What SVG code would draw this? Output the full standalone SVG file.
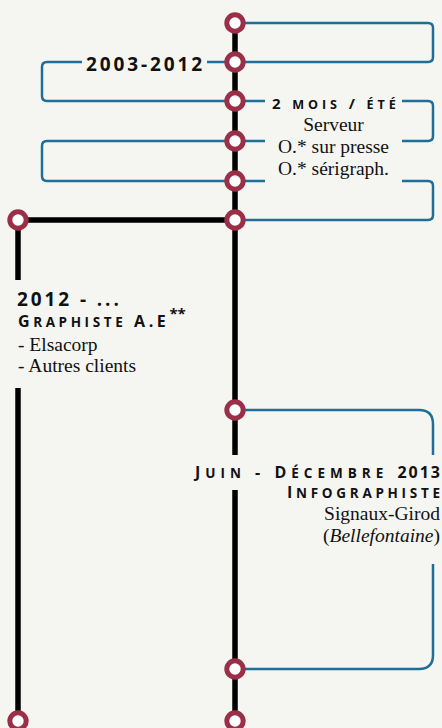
<svg xmlns="http://www.w3.org/2000/svg" width="442" height="728" viewBox="0 0 442 728">
<style>
.bg{fill:#f5f6f1}
.rail{fill:none;stroke:#000;stroke-width:5.5}
.link{fill:none;stroke:#1f6e98;stroke-width:2.5}
.stop{fill:#fff;stroke:#9c2f48;stroke-width:5}
.hd{font-family:"Open Sans","DejaVu Sans",sans-serif;font-weight:700;fill:#111}
.s{font-size:13.5px}
.tx{font-family:"Liberation Serif","DejaVu Serif",serif;font-size:19.5px;fill:#111}
</style>
<rect class="bg" x="0" y="0" width="442" height="728"/>
<g id="connectors">
  <path class="rail" d="M235 23V455M235 490V728M18 220H235M18 220V280M18 388V728"/>
  <path class="link" d="M235 23H428Q433 23 433 28V57Q433 62 428 62H235"/>
  <path class="link" d="M207 62H235M82 62H47Q42 62 42 67V96Q42 101 47 101H235"/>
  <path class="link" d="M235 101H265M402 101H428Q433 101 433 106V136Q433 141 428 141H402"/>
  <path class="link" d="M265 141H47Q42 141 42 146V176Q42 181 47 181H265"/>
  <path class="link" d="M402 181H428Q433 181 433 186V215Q433 220 428 220H235"/>
  <path class="link" d="M235 410H419Q433 410 433 424V455M433 564V655Q433 669 419 669H235"/>
</g>
<g id="stops">
  <circle class="stop" cx="235" cy="23" r="8.2"/>
  <circle class="stop" cx="235" cy="62" r="8.2"/>
  <circle class="stop" cx="235" cy="101" r="8.2"/>
  <circle class="stop" cx="235" cy="141" r="8.2"/>
  <circle class="stop" cx="235" cy="181" r="8.2"/>
  <circle class="stop" cx="235" cy="220" r="8.2"/>
  <circle class="stop" cx="18" cy="220" r="8.2"/>
  <circle class="stop" cx="235" cy="410" r="8.2"/>
  <circle class="stop" cx="235" cy="669" r="8.2"/>
  <circle class="stop" cx="235" cy="721" r="8.2"/>
  <circle class="stop" cx="18" cy="721" r="8.2"/>
</g>
<g id="period-2003">
  <text class="hd" x="86" y="70.5" font-size="19" letter-spacing="2.9">2003-2012</text>
</g>
<g id="summer-jobs">
  <text class="hd" x="272" y="108.5" font-size="15" letter-spacing="3.9">2 <tspan font-size="12.6">MOIS</tspan> / <tspan font-size="12.6">ÉT<tspan letter-spacing="0">É</tspan></tspan></text>
  <text class="tx" x="333.5" y="131" text-anchor="middle">Serveur</text>
  <text class="tx" x="333.5" y="152.5" text-anchor="middle">O.* sur presse</text>
  <text class="tx" x="333.5" y="175" text-anchor="middle">O.* sérigraph.</text>
</g>
<g id="freelance">
  <text class="hd" x="17" y="306" font-size="19" letter-spacing="2.9">2012 - ...</text>
  <text class="hd" x="18" y="327" font-size="16" letter-spacing="3.6">G<tspan class="s">RAPHISTE</tspan> A.E<tspan font-size="15" dy="-8" letter-spacing="0">**</tspan></text>
  <text class="tx" x="18" y="350.5">- Elsacorp</text>
  <text class="tx" x="18" y="371.5">- Autres clients</text>
</g>
<g id="infographiste">
  <text class="hd" x="440" y="477.5" font-size="16" text-anchor="end"><tspan letter-spacing="5">J<tspan class="s">UIN</tspan> - D<tspan class="s">ÉCEMBRE</tspan> </tspan><tspan letter-spacing="2">201<tspan letter-spacing="0">3</tspan></tspan></text>
  <text class="hd" x="440" y="498" font-size="16" text-anchor="end" letter-spacing="3.7">I<tspan class="s">NFOGRAPHIST<tspan letter-spacing="0">E</tspan></tspan></text>
  <text class="tx" x="440" y="520" text-anchor="end">Signaux-Girod</text>
  <text class="tx" x="440" y="542" text-anchor="end">(<tspan font-style="italic">Bellefontaine</tspan>)</text>
</g>
</svg>
